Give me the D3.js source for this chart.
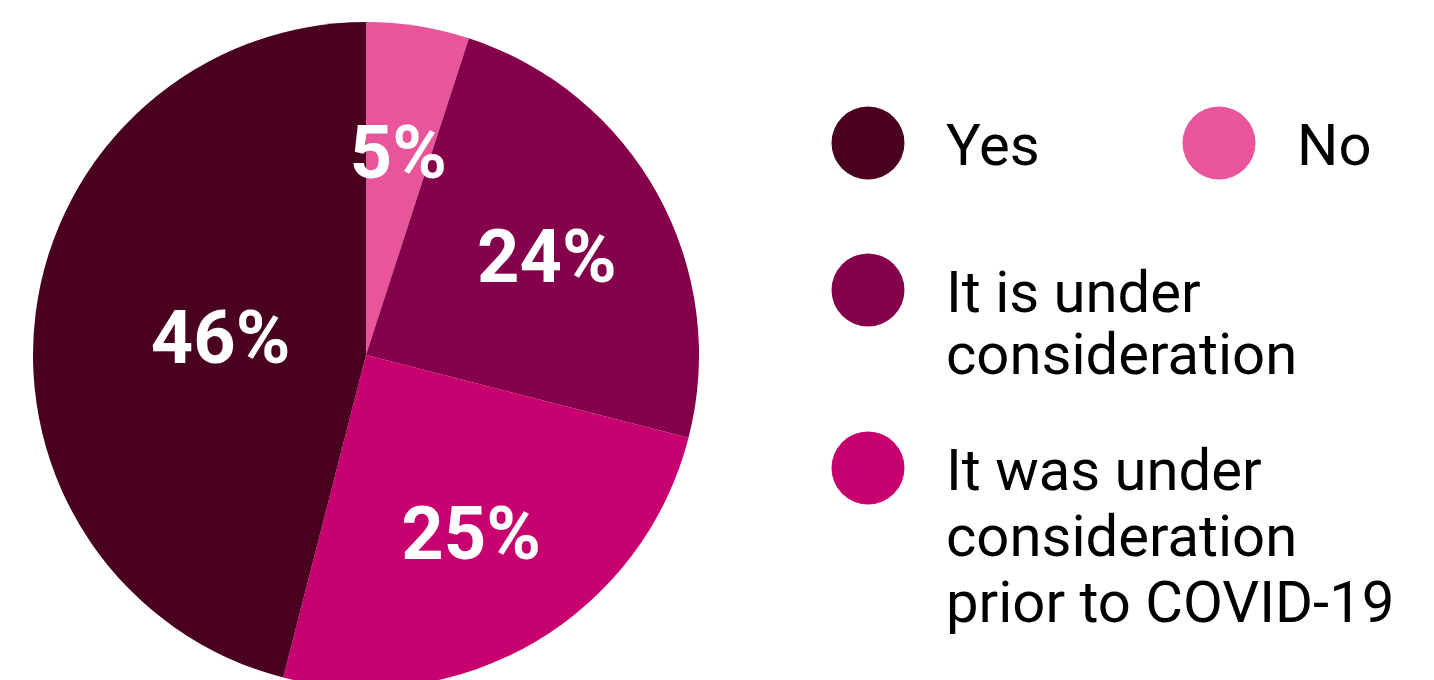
<!DOCTYPE html>
<html>
<head>
<meta charset="utf-8">
<script src="https://cdn.jsdelivr.net/npm/d3@7"></script>
<style>
  html, body { margin: 0; padding: 0; background: #ffffff; }
  svg { display: block; font-family: Roboto, "Noto Sans", sans-serif; }
</style>
</head>
<body>
<svg id="chart" width="1434" height="680"></svg>
<script>
// Survey answers, in drawing order (clockwise from 12 o'clock)
const categories = ["No", "It is under consideration", "It was under consideration prior to COVID-19", "Yes"];
const shares = [5, 24, 25, 46];
const sliceColors = ["#E8559A", "#85004B", "#C8006F", "#4A001F"];

// Legend entries: label lines and which category they refer to
const legendOrder = ["Yes", "No", "It is under consideration", "It was under consideration prior to COVID-19"];
const legendLines = [
  ["Yes"],
  ["No"],
  ["It is under", "consideration"],
  ["It was under", "consideration", "prior to COVID-19"]
];

const svg = d3.select("#chart");
const cx = 366, cy = 355, radius = 333;

const data = categories.map((c, i) => ({ category: c, value: shares[i] }));
const color = d3.scaleOrdinal().domain(categories).range(sliceColors);

const pie = d3.pie().sort(null).value(d => d.value);
const arcs = pie(data);
const arc = d3.arc().innerRadius(0).outerRadius(radius);

const g = svg.append("g").attr("transform", `translate(${cx},${cy})`);

g.selectAll("path.slice")
  .data(arcs)
  .join("path")
  .attr("class", "slice")
  .attr("d", arc)
  .attr("fill", d => color(d.data.category));

// Percentage labels sit inside each slice; the large slice gets them nearer the centre
const labelRadius = d => d.data.value > 40 ? radius * 0.44 : radius * 0.62;
g.selectAll("text.pct")
  .data(arcs)
  .join("text")
  .attr("class", "pct")
  .attr("transform", d => {
    const r = labelRadius(d);
    const [x, y] = d3.arc().innerRadius(r).outerRadius(r).centroid(d);
    return `translate(${x},${y})`;
  })
  .attr("text-anchor", "middle")
  .attr("dy", "0.36em")
  .attr("fill", "#ffffff")
  .attr("font-weight", 700)
  .attr("font-size", 74)
  .text(d => d.data.value + "%");

// Legend
const legendPos = [
  { x: 868, y: 143, lh: 0 },
  { x: 1219, y: 143, lh: 0 },
  { x: 868, y: 290, lh: 62 },
  { x: 868, y: 468, lh: 66 }
];

const legend = svg.append("g").attr("class", "legend");
const items = legend.selectAll("g.item")
  .data(legendOrder)
  .join("g")
  .attr("class", "item")
  .attr("transform", (d, i) => `translate(${legendPos[i].x},${legendPos[i].y})`);

items.append("circle")
  .attr("r", 36.5)
  .attr("fill", d => color(d));

// one text element per line, first baseline centred on the marker
items.each(function (d, i) {
  const item = d3.select(this);
  legendLines[i].forEach((ln, k) => {
    item.append("text")
      .attr("x", 78)
      .attr("y", 22 + k * legendPos[i].lh)
      .attr("font-size", 58)
      .attr("fill", "#000000")
      .text(ln);
  });
});
</script>
</body>
</html>
